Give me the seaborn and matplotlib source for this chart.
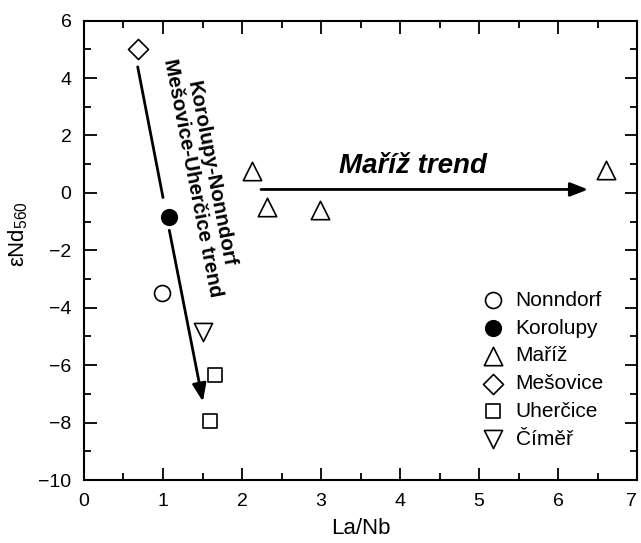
import matplotlib
matplotlib.use("Agg")
import matplotlib.pyplot as plt
import seaborn as sns
import pandas as pd
from matplotlib.ticker import MultipleLocator

# ---- data ----
localities = ["Nonndorf", "Korolupy", "Maříž", "Mešovice", "Uherčice", "Číměř"]
nonndorf_x = [0.99]
nonndorf_y = [-3.5]
korolupy_x = [1.08]
korolupy_y = [-0.85]
mariz_x = [2.12, 2.31, 2.99, 6.60]
mariz_y = [0.77, -0.48, -0.59, 0.80]
mesovice_x = [0.68]
mesovice_y = [5.0]
uhercice_x = [1.66, 1.59]
uhercice_y = [-6.35, -7.93]
cimer_x = [1.50]
cimer_y = [-4.85]

xs = [nonndorf_x, korolupy_x, mariz_x, mesovice_x, uhercice_x, cimer_x]
ys = [nonndorf_y, korolupy_y, mariz_y, mesovice_y, uhercice_y, cimer_y]
rows = []
for name, xv, yv in zip(localities, xs, ys):
    for a, b in zip(xv, yv):
        rows.append({"locality": name, "La/Nb": a, "eNd": b})
df = pd.DataFrame(rows)

styles = {
    "Nonndorf": dict(marker="o", s=132, color="white"),
    "Korolupy": dict(marker="o", s=125, color="black"),
    "Maříž": dict(marker="^", s=175, color="white"),
    "Mešovice": dict(marker="D", s=104, color="white"),
    "Uherčice": dict(marker="s", s=92, color="white"),
    "Číměř": dict(marker="v", s=170, color="white"),
}

sns.set_theme(style="ticks")
plt.rcParams["font.family"] = ["Liberation Sans", "DejaVu Sans"]
plt.rcParams["mathtext.default"] = "regular"
plt.rcParams["axes.unicode_minus"] = True
for k in ["text.color", "axes.labelcolor", "xtick.color", "ytick.color",
          "xtick.labelcolor", "ytick.labelcolor", "axes.edgecolor"]:
    plt.rcParams[k] = "black"

fig = plt.figure(figsize=(6.41, 5.43), dpi=100)
ax = fig.add_axes([0.131, 0.116, 0.863, 0.846])

for name in localities:
    st = styles[name]
    sns.scatterplot(data=df[df["locality"] == name], x="La/Nb", y="eNd",
                    marker=st["marker"], s=st["s"], color=st["color"],
                    edgecolor="black", linewidth=1.2, label=name, ax=ax,
                    zorder=3)

# trend arrows
arrow_kw = dict(arrowstyle="-|>,head_length=0.9,head_width=0.35",
                color="black", lw=2, shrinkA=0, shrinkB=0)
ax.annotate("", xy=(1.00, -0.16), xytext=(0.68, 4.39),
            arrowprops=dict(arrowstyle="-", color="black", lw=2,
                            shrinkA=0, shrinkB=0))
ax.annotate("", xy=(1.505, -7.27), xytext=(1.08, -1.30), arrowprops=arrow_kw)
ax.annotate("", xy=(6.38, 0.12), xytext=(2.24, 0.12), arrowprops=arrow_kw)

ax.text(4.16, 0.92, "Maříž trend", fontsize=20, fontweight="bold",
        fontstyle="italic", ha="center", va="center")
ax.text(1.49, 0.60, "Korolupy-Nonndorf\nMešovice-Uherčice trend",
        fontsize=14.8, fontweight="bold", rotation=-79, rotation_mode="anchor",
        ha="center", va="center", multialignment="center", linespacing=1.05)

ax.set_xlim(0, 7)
ax.set_ylim(-10, 6)
ax.xaxis.set_major_locator(MultipleLocator(1))
ax.xaxis.set_minor_locator(MultipleLocator(0.5))
ax.yaxis.set_major_locator(MultipleLocator(2))
ax.yaxis.set_minor_locator(MultipleLocator(1))
ax.tick_params(which="both", direction="in", top=True, right=True,
               width=1.3, color="black", labelcolor="black")
ax.tick_params(which="major", length=9, labelsize=14, pad=9)
ax.tick_params(which="minor", length=4.8)
for sp in ax.spines.values():
    sp.set_visible(True)
    sp.set_linewidth(1.5)
    sp.set_color("black")

ax.set_xlabel("La/Nb", fontsize=16, labelpad=6)
ax.set_ylabel("εNd$_{560}$", fontsize=16, labelpad=3)
ax.yaxis.set_label_coords(-0.098, 0.535)

leg = ax.legend(loc="upper left", bbox_to_anchor=(0.705, 0.43), frameon=False,
                fontsize=15, handletextpad=0.6, labelspacing=0.42,
                handlelength=1.0, borderaxespad=0)

fig.canvas.draw()
for tick in ax.xaxis.get_major_ticks():
    if abs(tick.get_loc() - 7) < 1e-9:
        tick.label1.set_horizontalalignment("right")
        tick.label1.set_x(7)

fig.savefig("out.png", dpi=100)
